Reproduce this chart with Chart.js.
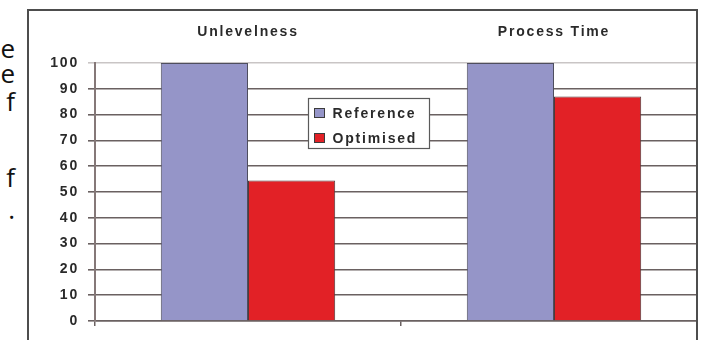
<!DOCTYPE html>
<html>
<head>
<meta charset="utf-8">
<script src="https://cdn.jsdelivr.net/npm/chart.js@4/dist/chart.umd.min.js"></script>
<style>
  html, body { margin: 0; padding: 0; background: #fff; width: 712px; height: 340px; overflow: hidden; }
  .para { position: absolute; left: -100px; width: 115px; text-align: right;
          font-family: "Open Sans", "Noto Sans", sans-serif; font-size: 26px; line-height: 26px; color: #111; }
  #frame { position: absolute; left: 27px; top: 9px; width: 667px; height: 400px;
           border: 2px solid #4d4d4d; overflow: hidden; background: #fff; }
  #chart { position: absolute; left: 0; top: 0; filter: blur(0.35px); }
</style>
</head>
<body>
<div class="para" style="top:35px">e</div>
<div class="para" style="top:60px">e</div>
<div class="para" style="top:88px">f</div>
<div class="para" style="top:164px">f</div>
<div class="para" style="top:196px">.</div>

<div id="frame"><canvas id="chart" width="690" height="329"></canvas></div>

<script>
// Chart content
const categories = ['Unlevelness', 'Process Time'];
const seriesNames = ['Reference', 'Optimised'];
const referenceValues = [100, 100];
const optimisedValues = [54.5, 87];
const yTicks = [0, 10, 20, 30, 40, 50, 60, 70, 80, 90, 100];

const seriesColors = ['#9595c8', '#e22126'];
const labelFont = { family: "'Liberation Sans', Arial, sans-serif", size: 14, weight: 'bold' };
const textColor = '#2a2a2a';
const gridColor = '#6a6161';
const spacing = '1.8px';

// Wide letter spacing for all chart text
const spacedText = {
  id: 'spacedText',
  beforeUpdate(chart) { chart.ctx.letterSpacing = spacing; },
  beforeDraw(chart) { chart.ctx.letterSpacing = spacing; }
};

// Boxed legend sitting inside the plot area
const boxLegend = {
  id: 'boxLegend',
  afterDraw(chart) {
    const { ctx, chartArea } = chart;
    const w = chartArea.right - chartArea.left;
    const h = chartArea.bottom - chartArea.top;
    const bx = Math.round(chartArea.left + 0.348 * w) + 0.5;
    const by = Math.round(chartArea.top + 0.136 * h) + 0.5;
    const bw = 121, bh = 50;
    ctx.save();
    ctx.letterSpacing = spacing;
    ctx.fillStyle = '#ffffff';
    ctx.fillRect(bx, by, bw, bh);
    ctx.strokeStyle = '#5a5a5a';
    ctx.lineWidth = 1.2;
    ctx.strokeRect(bx, by, bw, bh);
    ctx.font = `bold ${labelFont.size}px ${labelFont.family}`;
    ctx.textBaseline = 'middle';
    ctx.textAlign = 'left';
    chart.data.datasets.forEach((ds, i) => {
      const cy = by + 15 + i * 25;
      ctx.fillStyle = ds.backgroundColor;
      ctx.fillRect(bx + 6, cy - 5, 10, 9);
      ctx.strokeStyle = '#3c3c3c';
      ctx.lineWidth = 1;
      ctx.strokeRect(bx + 6, cy - 5, 10, 9);
      ctx.fillStyle = textColor;
      ctx.fillText(ds.label, bx + 24, cy + 1);
    });
    ctx.restore();
  }
};

new Chart(document.getElementById('chart'), {
  type: 'bar',
  data: {
    labels: categories,
    datasets: [
      { label: seriesNames[0], data: referenceValues, backgroundColor: seriesColors[0],
        borderColor: '#4e4e5e', borderWidth: 1, categoryPercentage: 0.57, barPercentage: 1.0 },
      { label: seriesNames[1], data: optimisedValues, backgroundColor: seriesColors[1],
        borderColor: '#4e3a3a', borderWidth: 1, categoryPercentage: 0.57, barPercentage: 1.0 }
    ]
  },
  options: {
    responsive: false,
    devicePixelRatio: 1,
    animation: false,
    layout: { padding: { left: 0, right: 12, top: 0, bottom: 0 } },
    plugins: { legend: { display: false }, tooltip: { enabled: false }, title: { display: false } },
    scales: {
      x: {
        position: 'bottom',
        offset: true,
        ticks: { display: false },
        grid: { offset: true, drawOnChartArea: false, drawTicks: true, tickLength: 5, color: gridColor, lineWidth: 1.5 },
        border: { display: true, color: gridColor, width: 1.5 },
        afterFit(scale) { scale.height = 19; }
      },
      xTop: {
        type: 'category',
        position: 'top',
        offset: true,
        labels: categories,
        grid: { display: false },
        border: { display: false },
        ticks: { font: labelFont, color: textColor, padding: 14, maxRotation: 0 },
        afterFit(scale) { scale.height = 52; }
      },
      y: {
        min: 0,
        max: 100,
        afterBuildTicks(scale) { scale.ticks = yTicks.map(v => ({ value: v })); },
        ticks: { font: labelFont, color: textColor, padding: 9 },
        grid: {
          drawTicks: true,
          tickLength: 7,
          lineWidth: 1.6,
          color: ctx => (ctx.tick && ctx.tick.value === 100 ? '#c9c5c5' : gridColor)
        },
        border: { display: true, color: '#857878', width: 2 },
        afterFit(scale) { scale.width = 66; }
      }
    }
  },
  plugins: [spacedText, boxLegend]
});
</script>
</body>
</html>
